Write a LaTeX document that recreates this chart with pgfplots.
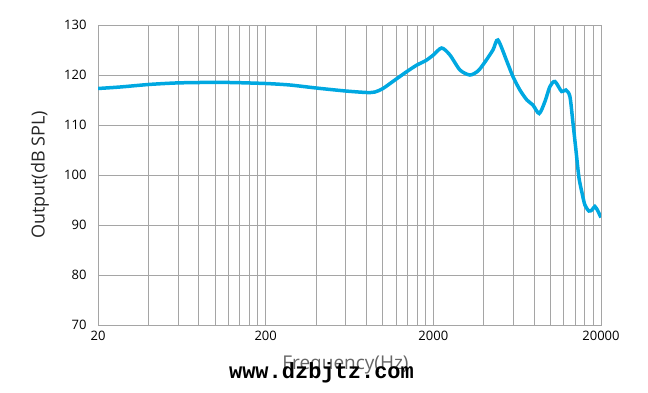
\documentclass[border=0pt]{standalone}
\usepackage{fontspec}
\setmainfont{Open Sans}
\newfontfamily\wmfont{Liberation Mono}
\usepackage{pgfplots}
\pgfplotsset{compat=1.18}
\definecolor{curve}{RGB}{0,168,225}
\definecolor{gridc}{RGB}{165,165,165}
\begin{document}
\begin{tikzpicture}
\begin{axis}[
  at={(0,0)}, anchor=south west,
  scale only axis, width=503pt, height=300pt,
  xmode=log, xmin=20, xmax=20000, ymin=70, ymax=130,
  xtick={20,200,2000,20000}, xticklabels={20,200,2000,20000},
  minor xtick={40,60,80,100,120,140,160,180,400,600,800,1000,1200,1400,1600,1800,4000,6000,8000,10000,12000,14000,16000,18000},
  ytick={70,80,90,100,110,120,130},
  grid=both,
  major grid style={draw=gridc, line width=1pt},
  minor grid style={draw=gridc, line width=1pt},
  axis line style={draw=gridc, line width=1pt},
  major tick length=0pt, minor tick length=0pt,
  tick style={draw=none},
  /pgf/number format/assume math mode=true,
  tick label style={font=\fontsize{13}{13}\selectfont, text=black},
  xticklabel style={yshift=-3pt},
  yticklabel style={xshift=-8pt},
  ylabel={Output(dB SPL)},
  ylabel style={at={(axis description cs:-0.1153,0.5)}, anchor=center, rotate=0, font=\fontsize{18}{18}\selectfont, text=black!85},
  xlabel={Frequency(Hz)},
  xlabel style={at={(axis description cs:0.492,-0.1333)}, anchor=center, font=\fontsize{19}{19}\selectfont, text=black!60},
]
\addplot[curve, line width=3.5pt, smooth, tension=0.45] coordinates {
(20,117.3) (27.1,117.6) (40,118.1) (57.6,118.4) (80.6,118.5) (122.5,118.5)
(200,118.3) (279,118.0) (400,117.4) (600,116.8) (800,116.5) (897,116.6)
(1001,117.3) (1180,119) (1392,120.7) (1597,122) (1807,122.9) (2000,124)
(2242,125.4) (2512,124) (2883,121) (3306,120) (3690,120.8) (4006,122.3)
(4534,125) (4856,127) (5495,122.7) (5966,119.7) (6568,117) (7230,115)
(7852,114) (8561,112.3) (9262,114.7) (9918,117.7) (10624,118.7) (11648,116.7)
(12352,117) (13048,115.7) (13600,110.5) (14174,105) (14770,99.5) (15392,96.5)
(16034,94) (16940,92.8) (17650,93) (18390,93.7) (19166,92.8) (19972,91.5)
};
\end{axis}
\node[font=\wmfont\bfseries\fontsize{22}{22}\selectfont, text=black, anchor=center] at (223.5pt,-48pt) {www.dzbjtz.com};
\pgfresetboundingbox
\useasboundingbox (-98pt,-67pt) rectangle (550pt,325pt);
\end{tikzpicture}
\end{document}
